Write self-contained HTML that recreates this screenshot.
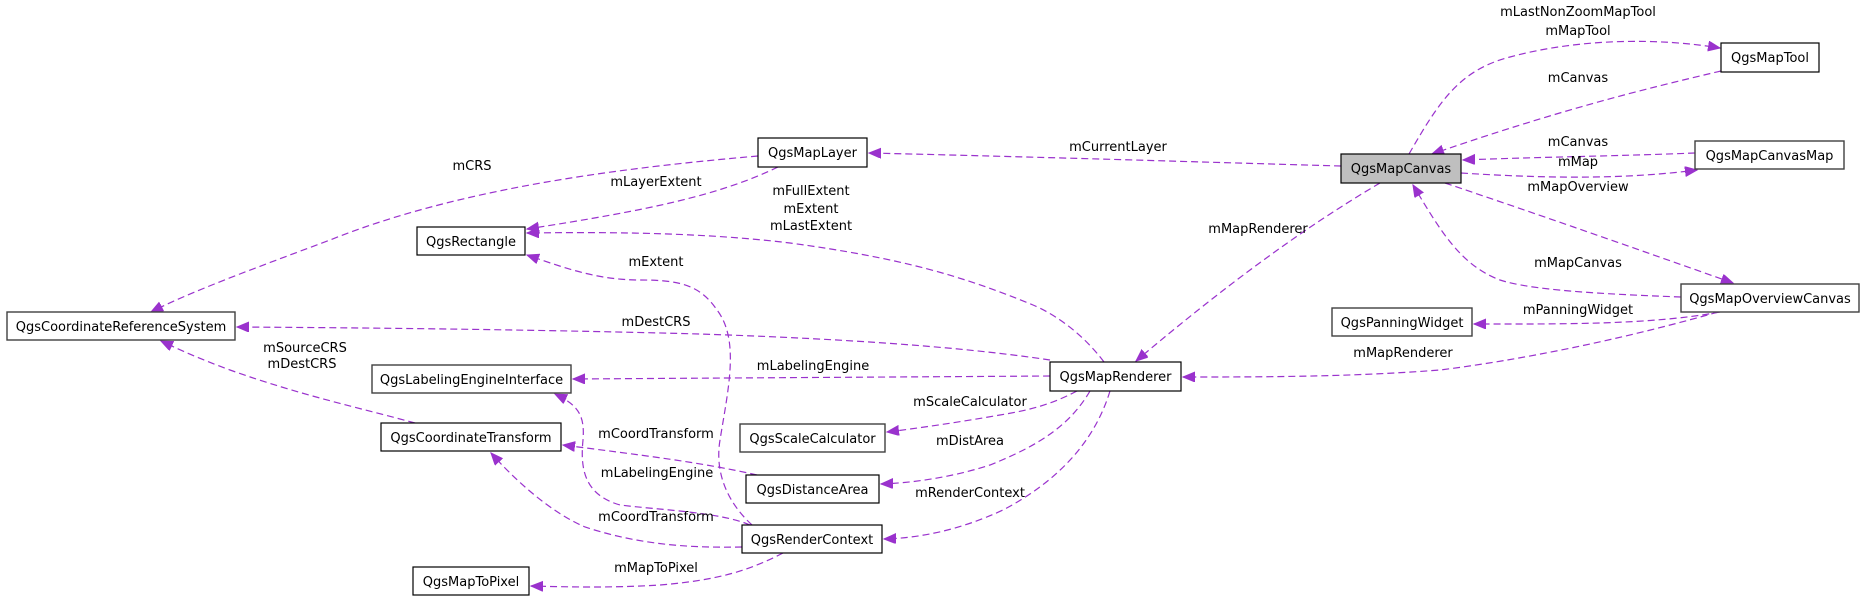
<!DOCTYPE html>
<html><head><meta charset="utf-8"><style>
html,body{margin:0;padding:0;background:#fff;}
svg{display:block;}
text{font-family:"DejaVu Sans","Liberation Sans",sans-serif;font-size:13px;fill:#000;}
.e{fill:none;stroke:#9a32cd;stroke-width:1.2;stroke-dasharray:7,4;}
.b{fill:#fff;stroke:#000;stroke-width:1.2;}
.g{fill:#fff;stroke:#404040;stroke-width:1.4;}
</style></head><body>
<svg width="1864" height="599" viewBox="0 0 1864 599" xmlns="http://www.w3.org/2000/svg">
<defs>
<marker id="a" markerUnits="userSpaceOnUse" markerWidth="14" markerHeight="12" refX="12" refY="5" orient="auto">
<path d="M0,0 L12,5 L0,10 z" fill="#9a32cd" stroke="#9a32cd"/>
</marker>
</defs>
<!-- edges -->
<path class="e" marker-end="url(#a)" d="M1409,154 C1440,100 1460,70 1510,57 C1580,38 1660,38 1720,48"/>
<path class="e" marker-end="url(#a)" d="M1721,71 C1640,90 1560,110 1432,154"/>
<path class="e" marker-end="url(#a)" d="M1695,153 C1620,156 1540,157 1463,160"/>
<path class="e" marker-end="url(#a)" d="M1461,173 C1540,178 1620,180 1697,170"/>
<path class="e" marker-end="url(#a)" d="M1445,183 C1540,215 1640,250 1733,283"/>
<path class="e" marker-end="url(#a)" d="M1681,297 C1600,294 1530,290 1500,280 C1460,265 1440,230 1413,185"/>
<path class="e" marker-end="url(#a)" d="M1720,312 C1650,325 1560,324 1474,324"/>
<path class="e" marker-end="url(#a)" d="M1718,312 C1620,340 1520,360 1440,370 C1350,377 1260,377 1183,377"/>
<path class="e" marker-end="url(#a)" d="M1380,183 C1300,230 1220,290 1136,361"/>
<path class="e" marker-end="url(#a)" d="M1341,166 C1200,162 1040,157 869,153"/>
<path class="e" marker-end="url(#a)" d="M758,156 C620,168 460,188 330,240 C250,270 190,292 151,312"/>
<path class="e" marker-end="url(#a)" d="M778,167 C720,195 650,210 527,229"/>
<path class="e" marker-end="url(#a)" d="M1104,362 C1080,330 1050,312 1033,305 C960,275 900,258 790,243 C700,232 600,232 527,233"/>
<path class="e" marker-end="url(#a)" d="M752,525 C725,500 715,470 720,440 C728,390 740,340 717,310 C700,285 680,280 640,280 C600,280 570,270 527,255"/>
<path class="e" marker-end="url(#a)" d="M750,525 C720,512 660,510 620,505 C585,495 580,470 583,440 C585,415 578,405 555,394"/>
<path class="e" marker-end="url(#a)" d="M742,547 C690,548 640,545 585,527 C550,512 515,480 491,453"/>
<path class="e" marker-end="url(#a)" d="M757,475 C700,462 640,455 563,445"/>
<path class="e" marker-end="url(#a)" d="M415,423 C360,408 300,395 230,370 C200,359 180,350 161,341"/>
<path class="e" marker-end="url(#a)" d="M1050,360 C950,345 820,338 700,334 C550,330 400,328 237,327"/>
<path class="e" marker-end="url(#a)" d="M1050,376 C900,377 720,378 573,379"/>
<path class="e" marker-end="url(#a)" d="M1077,391 C1050,405 1030,410 1000,415 C960,422 920,428 887,432"/>
<path class="e" marker-end="url(#a)" d="M1090,391 C1070,425 1040,445 990,465 C950,478 910,483 881,484"/>
<path class="e" marker-end="url(#a)" d="M1110,391 C1095,440 1060,480 1003,510 C960,530 920,538 884,539"/>
<path class="e" marker-end="url(#a)" d="M783,553 C750,570 720,580 660,585 C610,588 570,587 531,586"/>
<!-- nodes -->
<rect class="b" x="1341" y="154" width="120" height="29" style="fill:#bfbfbf"/><text x="1401" y="173" text-anchor="middle">QgsMapCanvas</text>
<rect class="b" x="1721" y="43" width="98" height="29"/><text x="1770" y="62" text-anchor="middle">QgsMapTool</text>
<rect class="g" x="1695" y="141" width="149" height="28"/><text x="1769.5" y="160" text-anchor="middle">QgsMapCanvasMap</text>
<rect class="g" x="1681" y="284" width="178" height="28"/><text x="1770" y="303" text-anchor="middle">QgsMapOverviewCanvas</text>
<rect class="g" x="1332" y="308" width="140" height="28"/><text x="1402" y="327" text-anchor="middle">QgsPanningWidget</text>
<rect class="b" x="758" y="138" width="109" height="29"/><text x="812.5" y="157" text-anchor="middle">QgsMapLayer</text>
<rect class="b" x="417" y="227" width="108" height="28"/><text x="471" y="246" text-anchor="middle">QgsRectangle</text>
<rect class="g" x="7" y="312" width="228" height="28"/><text x="121" y="331" text-anchor="middle">QgsCoordinateReferenceSystem</text>
<rect class="g" x="372" y="365" width="199" height="28"/><text x="471.5" y="384" text-anchor="middle">QgsLabelingEngineInterface</text>
<rect class="b" x="381" y="423" width="180" height="28"/><text x="471" y="442" text-anchor="middle">QgsCoordinateTransform</text>
<rect class="b" x="413" y="567" width="116" height="28"/><text x="471" y="586" text-anchor="middle">QgsMapToPixel</text>
<rect class="b" x="1050" y="362" width="131" height="29"/><text x="1115.5" y="381" text-anchor="middle">QgsMapRenderer</text>
<rect class="g" x="740" y="424" width="145" height="28"/><text x="812.5" y="443" text-anchor="middle">QgsScaleCalculator</text>
<rect class="b" x="746" y="475" width="133" height="28"/><text x="812.5" y="494" text-anchor="middle">QgsDistanceArea</text>
<rect class="b" x="742" y="525" width="140" height="28"/><text x="812" y="544" text-anchor="middle">QgsRenderContext</text>
<!-- labels -->
<g text-anchor="middle">
<text x="1578" y="16">mLastNonZoomMapTool</text>
<text x="1578" y="35">mMapTool</text>
<text x="1578" y="82">mCanvas</text>
<text x="1578" y="146">mCanvas</text>
<text x="1578" y="166">mMap</text>
<text x="1578" y="191">mMapOverview</text>
<text x="1578" y="267">mMapCanvas</text>
<text x="1578" y="314">mPanningWidget</text>
<text x="1403" y="357">mMapRenderer</text>
<text x="1258" y="233">mMapRenderer</text>
<text x="1118" y="151">mCurrentLayer</text>
<text x="472" y="170">mCRS</text>
<text x="656" y="186">mLayerExtent</text>
<text x="811" y="195">mFullExtent</text>
<text x="811" y="213">mExtent</text>
<text x="811" y="230">mLastExtent</text>
<text x="656" y="266">mExtent</text>
<text x="656" y="326">mDestCRS</text>
<text x="305" y="352">mSourceCRS</text>
<text x="302" y="368">mDestCRS</text>
<text x="813" y="370">mLabelingEngine</text>
<text x="970" y="406">mScaleCalculator</text>
<text x="656" y="438">mCoordTransform</text>
<text x="970" y="445">mDistArea</text>
<text x="657" y="477">mLabelingEngine</text>
<text x="970" y="497">mRenderContext</text>
<text x="656" y="521">mCoordTransform</text>
<text x="656" y="572">mMapToPixel</text>
</g>
</svg>
</body></html>
